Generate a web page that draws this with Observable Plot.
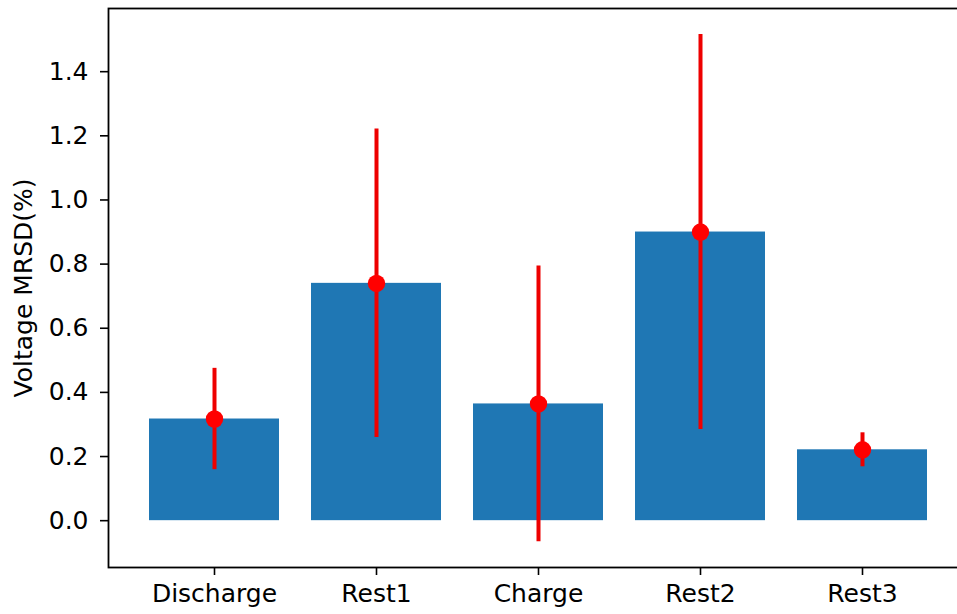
<!DOCTYPE html>
<html>
<head>
<meta charset="utf-8">
<script src="https://cdn.jsdelivr.net/npm/d3@7"></script>
<script src="https://cdn.jsdelivr.net/npm/@observablehq/plot@0.6"></script>
<style>
  html, body { margin: 0; padding: 0; background: white; overflow: hidden; }
</style>
</head>
<body>
<div id="chart"></div>
<script>
const categories = ["Discharge", "Rest1", "Charge", "Rest2", "Rest3"];
const meanValues = [0.317, 0.740, 0.364, 0.900, 0.221];
const errorValues = [0.158, 0.481, 0.430, 0.616, 0.053];
const yTicks = [0.0, 0.2, 0.4, 0.6, 0.8, 1.0, 1.2, 1.4];
const yLabel = "Voltage MRSD(%)";

const data = categories.map((c, i) => ({cat: c, v: meanValues[i], e: errorValues[i]}));

const chart = Plot.plot({
  width: 975,
  height: 614,
  marginLeft: 108,
  marginRight: 7.7,
  marginTop: 8,
  marginBottom: 47,
  style: {fontFamily: "DejaVu Sans", fontSize: "25px", color: "black", maxWidth: "none", overflow: "visible"},
  x: {domain: categories, paddingInner: 0.2, paddingOuter: 0.24, align: 0.5},
  y: {domain: [-0.146, 1.597]},
  marks: [
    Plot.barY(data, {x: "cat", y: "v", fill: "#1f77b4"}),
    Plot.ruleX(data, {x: "cat", y1: d => d.v - d.e, y2: d => d.v + d.e, stroke: "#ee0000", strokeWidth: 4}),
    Plot.dot(data, {x: "cat", y: "v", r: 8.7, fill: "red", stroke: "none"}),
    Plot.frame({stroke: "black", strokeWidth: 1.8}),
    Plot.axisX({tickSize: 8, tickPadding: 9, strokeWidth: 1.6, label: null, fontSize: 25}),
    Plot.axisY({ticks: yTicks, tickFormat: d3.format(".1f"), tickSize: 8, tickPadding: 12, strokeWidth: 1.6, fontSize: 25,
      label: yLabel, labelAnchor: "center", labelArrow: "none", labelOffset: 94})
  ]
});
document.getElementById("chart").appendChild(chart);
</script>
</body>
</html>
